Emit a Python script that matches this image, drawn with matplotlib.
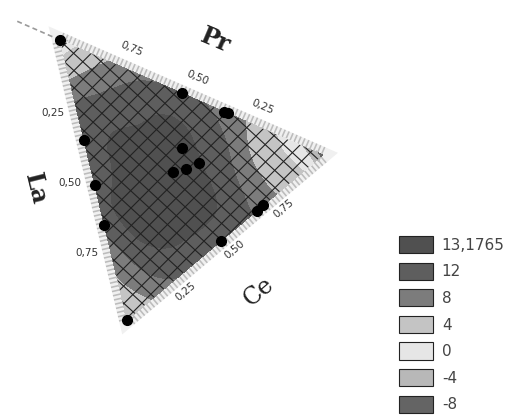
import numpy as np
import matplotlib
matplotlib.use("Agg")
import matplotlib.pyplot as plt
from matplotlib import tri as mtri
from matplotlib.collections import LineCollection
from matplotlib.patches import Polygon, Patch
from matplotlib.transforms import Affine2D

# Response surface on a 1/8 lattice.
# One row per Pr level (1 -> 0); inside a row La goes 0, 1/8, 2/8, ...
pr_levels = [1.0, 0.875, 0.75, 0.625, 0.5, 0.375, 0.25, 0.125, 0.0]
resp_rows = [
    [-2],
    [2, 3],
    [6, 7.5, 9],
    [8, 10.5, 11.5, 10],
    [8.5, 12.2, 12.6, 12.5, 10.5],
    [6.5, 11, 13, 13.2, 12.8, 10.5],
    [2.5, 7, 11.5, 13.1, 13.1, 12.6, 6],
    [-2, 2, 7.5, 12, 12.6, 12.3, 9, 3.5],
    [-10, 1, 4.5, 8.5, 10, 10, 8, 4, 1.5],
]

# Experimental points (Pr, La); Ce = 1 - Pr - La
pts_pr = [1.0, 0.535, 0.376, 0.361, 0.643, 0.482, 0.34, 0.0, 0.0, 0.0, 0.0, 0.374, 0.325, 0.301, 0.287]
pts_la = [0.0, 0.0, 0.0, 0.0, 0.357, 0.518, 0.66, 1.0, 0.52, 0.337, 0.306, 0.218, 0.329, 0.295, 0.248]

levels = [-8, -4, 0, 4, 8, 12, 13.1765]
level_labels = ["-8", "-4", "0", "4", "8", "12", "13,1765"]
# one colour per legend entry: band below each level (lowest first)
level_colors = ["#646464", "#b8b8b8", "#e6e6e6", "#c4c4c4", "#7c7c7c", "#5e5e5e", "#505050"]

tick_vals = [0.25, 0.50, 0.75]
tick_labels = ["0,25", "0,50", "0,75"]

# Figure in pixel units
fig = plt.figure(figsize=(5.17, 4.17), dpi=100)
ax = fig.add_axes([0, 0, 1, 1])
ax.set_xlim(0, 517)
ax.set_ylim(417, 0)
ax.axis("off")

# Ternary (Ce, La) -> pixel: corners Pr at A, Ce at B, La at C
A = np.array([60.0, 40.0])
B = np.array([323.0, 155.0])
C = np.array([127.0, 320.0])
M = np.array([[B[0] - A[0], C[0] - A[0], A[0]],
              [B[1] - A[1], C[1] - A[1], A[1]],
              [0, 0, 1]])
tern = Affine2D(M) + ax.transData
corners = [[0, 0], [1, 0], [0, 1]]

# Border band with tick hatching
ax.add_patch(Polygon(corners, closed=True, fill=False, transform=tern,
                     lw=11.5, edgecolor="#f0f0f0", joinstyle="miter", zorder=1))
ax.add_patch(Polygon(corners, closed=True, fill=False, transform=tern,
                     lw=11.5, edgecolor="#bcbcbc", joinstyle="miter", linestyle=(0, (0.1, 0.17)),
                     zorder=1))
# Extension of the top axis past the Pr corner
ax.plot([0, -0.17], [0, 0], transform=tern, color="#9a9a9a", lw=1.2, ls=(0, (3, 2)), zorder=1)

# Contour surface
ce_g, la_g, z_g = [], [], []
for pr, row in zip(pr_levels, resp_rows):
    for j, z in enumerate(row):
        la = j / 8
        la_g.append(la)
        ce_g.append(max(0.0, 1 - pr - la))
        z_g.append(z)
triang = mtri.Triangulation(ce_g, la_g)
refiner = mtri.UniformTriRefiner(triang)
tri_f, z_f = refiner.refine_field(np.array(z_g, float), subdiv=4)
fill_colors = level_colors + [level_colors[-1]]  # under, 6 bands, over
ax.tricontourf(tri_f, z_f, levels=levels, colors=fill_colors, extend="both",
               transform=tern, zorder=2)

# Mesh lines over the surface, clipped to the triangle
tri_patch = Polygon(corners, closed=True, transform=tern, visible=False)
ax.add_patch(tri_patch)
segs = []
for d in (np.array([1.0, -1.0]), np.array([1.0, 0.92])):
    d = d / np.linalg.norm(d)
    n = np.array([-d[1], d[0]])
    proj = [p @ n for p in (A, B, C)]
    for c in np.arange(min(proj) - 6, max(proj) + 13, 12.5):
        segs.append([c * n - 500 * d, c * n + 500 * d])
mesh = LineCollection(segs, colors="#222222", linewidths=0.8, zorder=3)
ax.add_collection(mesh)
mesh.set_clip_path(tri_patch)

# Experimental points
pts_ce = [1 - p - l for p, l in zip(pts_pr, pts_la)]
ax.plot(pts_ce, pts_la, "o", transform=tern, color="black", ms=7, zorder=4)

# Tick labels on each edge
for v, lab in zip(tick_vals, tick_labels):
    # Pr axis along top edge (La = 0)
    ax.annotate(lab, xy=(1 - v, 0), xycoords=tern, xytext=(4, 14), textcoords="offset points",
                ha="center", va="center", fontsize=7.5, rotation=-23, color="#333333")
    # La axis along left edge (Ce = 0)
    ax.annotate(lab, xy=(0, v), xycoords=tern, xytext=(-17, -2), textcoords="offset points",
                ha="center", va="center", fontsize=7.5, color="#333333")
    # Ce axis along bottom edge (Pr = 0)
    ax.annotate(lab, xy=(v, 1 - v), xycoords=tern, xytext=(7, -9), textcoords="offset points",
                ha="center", va="center", fontsize=7.5, rotation=40, color="#333333")

# Component names
ax.annotate("Pr", xy=(0.5, 0), xycoords=tern, xytext=(17, 41), textcoords="offset points",
            ha="center", va="center", fontsize=17, rotation=-23, family="DejaVu Serif",
            weight="bold", color="#222222")
ax.annotate("La", xy=(0, 0.5), xycoords=tern, xytext=(-42, -6), textcoords="offset points",
            ha="center", va="center", fontsize=17, rotation=-76, family="DejaVu Serif",
            weight="bold", color="#222222")
ax.annotate("Ce", xy=(0.5, 0.5), xycoords=tern, xytext=(24, -39), textcoords="offset points",
            ha="center", va="center", fontsize=17, rotation=40, family="DejaVu Serif",
            color="#222222")

# Legend, highest level on top
handles = [Patch(facecolor=c, edgecolor="#222222", linewidth=0.8) for c in level_colors[::-1]]
ax.legend(handles, level_labels[::-1], loc="upper left", bbox_to_anchor=(399, 236),
          bbox_transform=ax.transData, frameon=False, fontsize=11, borderpad=0,
          borderaxespad=0, handlelength=2.2, handleheight=1.35, handletextpad=0.6,
          labelspacing=0.62, labelcolor="#444444")

fig.savefig("out.png", dpi=100)
